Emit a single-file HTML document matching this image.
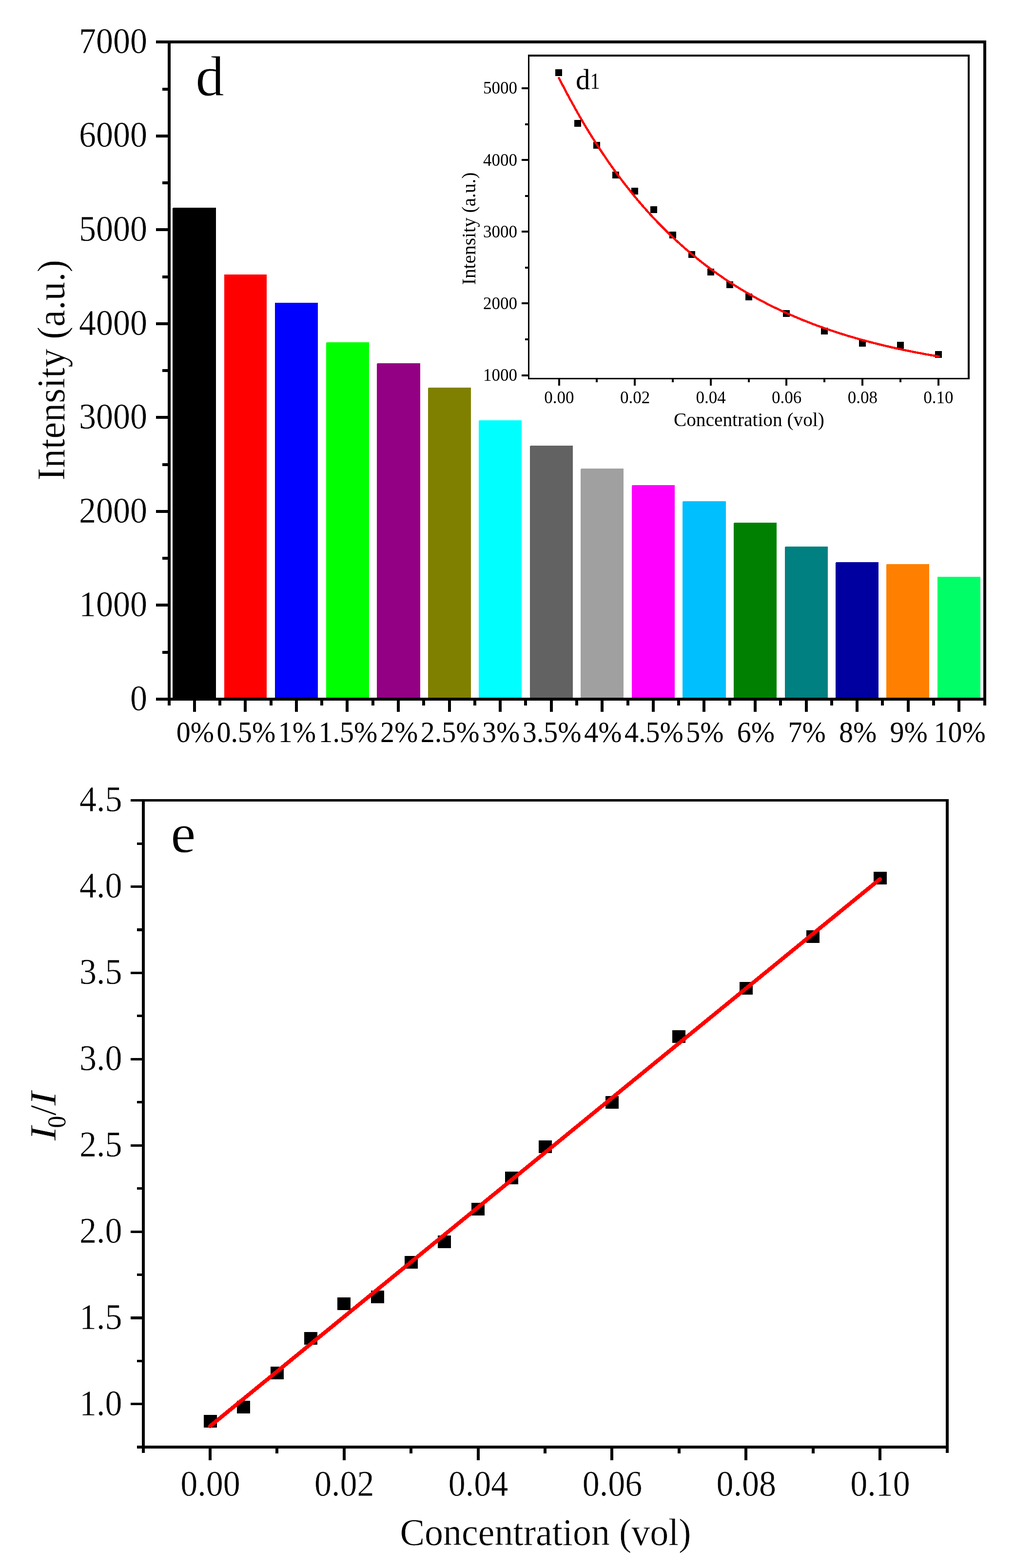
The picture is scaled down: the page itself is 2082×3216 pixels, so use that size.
<!DOCTYPE html>
<html lang="en"><head><meta charset="utf-8"><title>Intensity vs concentration</title>
<style>
html,body{margin:0;padding:0;background:#fff}
body{width:2082px;height:3216px;overflow:hidden}
svg{display:block}
text{font-family:"Liberation Serif","DejaVu Serif",serif;fill:#000}
text.t{stroke:#fff;stroke-width:0.007em;stroke-linejoin:round}
</style></head><body>
<svg width="2082" height="3216" viewBox="0 0 2082 3216">
<rect x="0" y="0" width="2082" height="3216" fill="#fff"/>
<g shape-rendering="crispEdges">
<rect x="354" y="426" width="89" height="1010" fill="#000000" rx="2" ry="2"/>
<rect x="460" y="563" width="87" height="873" fill="#ff0000"/>
<rect x="564" y="621" width="88" height="815" fill="#0000ff"/>
<rect x="669" y="702" width="88" height="734" fill="#00ff00" rx="2" ry="2"/>
<rect x="773" y="745" width="89" height="691" fill="#940083" rx="2" ry="2"/>
<rect x="878" y="795" width="88" height="641" fill="#808000" rx="2" ry="2"/>
<rect x="982" y="862" width="88" height="574" fill="#00ffff" rx="2" ry="2"/>
<rect x="1087" y="914" width="88" height="522" fill="#626262" rx="2" ry="2"/>
<rect x="1191" y="961" width="88" height="475" fill="#a0a0a0" rx="2" ry="2"/>
<rect x="1296" y="995" width="88" height="441" fill="#ff00ff" rx="2" ry="2"/>
<rect x="1400" y="1028" width="89" height="408" fill="#00bfff" rx="2" ry="2"/>
<rect x="1505" y="1072" width="88" height="364" fill="#008000" rx="2" ry="2"/>
<rect x="1610" y="1121" width="88" height="315" fill="#008080" rx="2" ry="2"/>
<rect x="1714" y="1153" width="88" height="283" fill="#0000a0" rx="2" ry="2"/>
<rect x="1818" y="1157" width="88" height="279" fill="#ff8000" rx="2" ry="2"/>
<rect x="1923" y="1183" width="88" height="253" fill="#00ff66"/>
<rect x="320" y="83" width="1703" height="6" fill="#000"/>
<rect x="320" y="1431" width="1703" height="6" fill="#000"/>
<rect x="344" y="83" width="6" height="1364" fill="#000"/>
<rect x="2017" y="83" width="6" height="1364" fill="#000"/>
<rect x="320" y="1431" width="24" height="6" fill="#000"/>
<rect x="333" y="1335" width="11" height="6" fill="#000"/>
<rect x="320" y="1238" width="24" height="6" fill="#000"/>
<rect x="333" y="1142" width="11" height="6" fill="#000"/>
<rect x="320" y="1046" width="24" height="6" fill="#000"/>
<rect x="333" y="950" width="11" height="6" fill="#000"/>
<rect x="320" y="853" width="24" height="6" fill="#000"/>
<rect x="333" y="757" width="11" height="6" fill="#000"/>
<rect x="320" y="661" width="24" height="6" fill="#000"/>
<rect x="333" y="565" width="11" height="6" fill="#000"/>
<rect x="320" y="468" width="24" height="6" fill="#000"/>
<rect x="333" y="372" width="11" height="6" fill="#000"/>
<rect x="320" y="276" width="24" height="6" fill="#000"/>
<rect x="333" y="180" width="11" height="6" fill="#000"/>
<rect x="320" y="83" width="24" height="6" fill="#000"/>
<rect x="396" y="1437" width="6" height="23" fill="#000"/>
<rect x="500" y="1437" width="6" height="23" fill="#000"/>
<rect x="605" y="1437" width="6" height="23" fill="#000"/>
<rect x="709" y="1437" width="6" height="23" fill="#000"/>
<rect x="814" y="1437" width="6" height="23" fill="#000"/>
<rect x="919" y="1437" width="6" height="23" fill="#000"/>
<rect x="1023" y="1437" width="6" height="23" fill="#000"/>
<rect x="1128" y="1437" width="6" height="23" fill="#000"/>
<rect x="1232" y="1437" width="6" height="23" fill="#000"/>
<rect x="1337" y="1437" width="6" height="23" fill="#000"/>
<rect x="1441" y="1437" width="6" height="23" fill="#000"/>
<rect x="1546" y="1437" width="6" height="23" fill="#000"/>
<rect x="1651" y="1437" width="6" height="23" fill="#000"/>
<rect x="1755" y="1437" width="6" height="23" fill="#000"/>
<rect x="1860" y="1437" width="6" height="23" fill="#000"/>
<rect x="1964" y="1437" width="6" height="23" fill="#000"/>
<rect x="448" y="1437" width="6" height="10" fill="#000"/>
<rect x="553" y="1437" width="6" height="10" fill="#000"/>
<rect x="657" y="1437" width="6" height="10" fill="#000"/>
<rect x="762" y="1437" width="6" height="10" fill="#000"/>
<rect x="866" y="1437" width="6" height="10" fill="#000"/>
<rect x="971" y="1437" width="6" height="10" fill="#000"/>
<rect x="1075" y="1437" width="6" height="10" fill="#000"/>
<rect x="1180" y="1437" width="6" height="10" fill="#000"/>
<rect x="1285" y="1437" width="6" height="10" fill="#000"/>
<rect x="1389" y="1437" width="6" height="10" fill="#000"/>
<rect x="1494" y="1437" width="6" height="10" fill="#000"/>
<rect x="1598" y="1437" width="6" height="10" fill="#000"/>
<rect x="1703" y="1437" width="6" height="10" fill="#000"/>
<rect x="1807" y="1437" width="6" height="10" fill="#000"/>
<rect x="1912" y="1437" width="6" height="10" fill="#000"/>
</g>
<text class="t" transform="translate(302,1456.9) scale(1,1.06)" font-size="70" text-anchor="end">0</text>
<text class="t" transform="translate(302,1264.33) scale(1,1.06)" font-size="70" text-anchor="end">1000</text>
<text class="t" transform="translate(302,1071.76) scale(1,1.06)" font-size="70" text-anchor="end">2000</text>
<text class="t" transform="translate(302,879.186) scale(1,1.06)" font-size="70" text-anchor="end">3000</text>
<text class="t" transform="translate(302,686.614) scale(1,1.06)" font-size="70" text-anchor="end">4000</text>
<text class="t" transform="translate(302,494.043) scale(1,1.06)" font-size="70" text-anchor="end">5000</text>
<text class="t" transform="translate(302,301.471) scale(1,1.06)" font-size="70" text-anchor="end">6000</text>
<text class="t" transform="translate(302,108.9) scale(1,1.06)" font-size="70" text-anchor="end">7000</text>
<text transform="translate(400.281,1522.3) scale(1,1.04)" font-size="58" text-anchor="middle">0%</text>
<text transform="translate(504.844,1522.3) scale(1,1.04)" font-size="58" text-anchor="middle">0.5%</text>
<text transform="translate(609.406,1522.3) scale(1,1.04)" font-size="58" text-anchor="middle">1%</text>
<text transform="translate(713.969,1522.3) scale(1,1.04)" font-size="58" text-anchor="middle">1.5%</text>
<text transform="translate(818.531,1522.3) scale(1,1.04)" font-size="58" text-anchor="middle">2%</text>
<text transform="translate(923.094,1522.3) scale(1,1.04)" font-size="58" text-anchor="middle">2.5%</text>
<text transform="translate(1027.66,1522.3) scale(1,1.04)" font-size="58" text-anchor="middle">3%</text>
<text transform="translate(1132.22,1522.3) scale(1,1.04)" font-size="58" text-anchor="middle">3.5%</text>
<text transform="translate(1236.78,1522.3) scale(1,1.04)" font-size="58" text-anchor="middle">4%</text>
<text transform="translate(1341.34,1522.3) scale(1,1.04)" font-size="58" text-anchor="middle">4.5%</text>
<text transform="translate(1445.91,1522.3) scale(1,1.04)" font-size="58" text-anchor="middle">5%</text>
<text transform="translate(1550.47,1522.3) scale(1,1.04)" font-size="58" text-anchor="middle">6%</text>
<text transform="translate(1655.03,1522.3) scale(1,1.04)" font-size="58" text-anchor="middle">7%</text>
<text transform="translate(1759.59,1522.3) scale(1,1.04)" font-size="58" text-anchor="middle">8%</text>
<text transform="translate(1864.16,1522.3) scale(1,1.04)" font-size="58" text-anchor="middle">9%</text>
<text transform="translate(1968.72,1522.3) scale(1,1.04)" font-size="58" text-anchor="middle">10%</text>
<text class="t" transform="translate(401.3,196.3)" font-size="117" text-anchor="start">d</text>
<text class="t" transform="translate(131.5,985.6) rotate(-90) scale(1.004,1.035)" font-size="77" text-anchor="start">Intensity (a.u.)</text>
<g shape-rendering="crispEdges">
<rect x="1083" y="112" width="906" height="4" fill="#000"/>
<rect x="1083" y="775" width="906" height="3" fill="#000"/>
<rect x="1083" y="112" width="3" height="666" fill="#000"/>
<rect x="1985" y="112" width="4" height="666" fill="#000"/>
<rect x="1070" y="768" width="13" height="4" fill="#000"/>
<rect x="1077" y="694" width="6" height="4" fill="#000"/>
<rect x="1070" y="620" width="13" height="4" fill="#000"/>
<rect x="1077" y="547" width="6" height="4" fill="#000"/>
<rect x="1070" y="473" width="13" height="4" fill="#000"/>
<rect x="1077" y="400" width="6" height="4" fill="#000"/>
<rect x="1070" y="326" width="13" height="4" fill="#000"/>
<rect x="1077" y="253" width="6" height="4" fill="#000"/>
<rect x="1070" y="179" width="13" height="4" fill="#000"/>
<rect x="1145" y="778" width="4" height="13" fill="#000"/>
<rect x="1222" y="778" width="4" height="6" fill="#000"/>
<rect x="1300" y="778" width="4" height="13" fill="#000"/>
<rect x="1378" y="778" width="4" height="6" fill="#000"/>
<rect x="1456" y="778" width="4" height="13" fill="#000"/>
<rect x="1534" y="778" width="4" height="6" fill="#000"/>
<rect x="1611" y="778" width="4" height="13" fill="#000"/>
<rect x="1689" y="778" width="4" height="6" fill="#000"/>
<rect x="1767" y="778" width="4" height="13" fill="#000"/>
<rect x="1845" y="778" width="4" height="6" fill="#000"/>
<rect x="1923" y="778" width="4" height="13" fill="#000"/>
</g>
<text transform="translate(1061,781) scale(1,1.04)" font-size="35" text-anchor="end">1000</text>
<text transform="translate(1061,633.87) scale(1,1.04)" font-size="35" text-anchor="end">2000</text>
<text transform="translate(1061,486.74) scale(1,1.04)" font-size="35" text-anchor="end">3000</text>
<text transform="translate(1061,339.61) scale(1,1.04)" font-size="35" text-anchor="end">4000</text>
<text transform="translate(1061,192.48) scale(1,1.04)" font-size="35" text-anchor="end">5000</text>
<text transform="translate(1146.9,827.2) scale(1,1.04)" font-size="35" text-anchor="middle">0.00</text>
<text transform="translate(1302.5,827.2) scale(1,1.04)" font-size="35" text-anchor="middle">0.02</text>
<text transform="translate(1458.1,827.2) scale(1,1.04)" font-size="35" text-anchor="middle">0.04</text>
<text transform="translate(1613.7,827.2) scale(1,1.04)" font-size="35" text-anchor="middle">0.06</text>
<text transform="translate(1769.3,827.2) scale(1,1.04)" font-size="35" text-anchor="middle">0.08</text>
<text transform="translate(1924.9,827.2) scale(1,1.04)" font-size="35" text-anchor="middle">0.10</text>
<text transform="translate(1536.4,874) scale(1.008,1.035)" font-size="39" text-anchor="middle">Concentration (vol)</text>
<text transform="translate(975.1,584.2) rotate(-90) scale(1.01,1.035)" font-size="39" text-anchor="start">Intensity (a.u.)</text>
<text transform="translate(1181,182.7)" font-size="59" text-anchor="start">d</text>
<text transform="translate(1210.4,182.3) scale(0.88,1.03)" font-size="46" text-anchor="start">1</text>
<g shape-rendering="crispEdges">
<rect x="1139" y="142" width="14" height="14" fill="#000"/>
<rect x="1178" y="246" width="14" height="14" fill="#000"/>
<rect x="1217" y="291" width="14" height="14" fill="#000"/>
<rect x="1256" y="352" width="14" height="14" fill="#000"/>
<rect x="1295" y="385" width="14" height="14" fill="#000"/>
<rect x="1334" y="423" width="14" height="14" fill="#000"/>
<rect x="1373" y="475" width="14" height="14" fill="#000"/>
<rect x="1412" y="515" width="14" height="14" fill="#000"/>
<rect x="1451" y="551" width="14" height="14" fill="#000"/>
<rect x="1490" y="577" width="14" height="14" fill="#000"/>
<rect x="1529" y="602" width="14" height="14" fill="#000"/>
<rect x="1606" y="636" width="14" height="14" fill="#000"/>
<rect x="1684" y="672" width="14" height="14" fill="#000"/>
<rect x="1762" y="697" width="14" height="14" fill="#000"/>
<rect x="1840" y="701" width="14" height="14" fill="#000"/>
<rect x="1918" y="720" width="14" height="14" fill="#000"/>
</g>
<polyline points="1146.6,160.1 1154.4,175.3 1162.2,190.2 1170.0,204.7 1177.8,218.8 1185.5,232.7 1193.3,246.1 1201.1,259.3 1208.9,272.1 1216.7,284.6 1224.5,296.8 1232.3,308.7 1240.1,320.3 1247.8,331.6 1255.6,342.7 1263.4,353.5 1271.2,364.0 1279.0,374.2 1286.8,384.2 1294.6,394.0 1302.4,403.5 1310.1,412.8 1317.9,421.9 1325.7,430.7 1333.5,439.4 1341.3,447.8 1349.1,456.0 1356.9,464.0 1364.7,471.8 1372.5,479.4 1380.2,486.9 1388.0,494.1 1395.8,501.2 1403.6,508.1 1411.4,514.8 1419.2,521.4 1427.0,527.8 1434.8,534.1 1442.5,540.2 1450.3,546.1 1458.1,551.9 1465.9,557.6 1473.7,563.1 1481.5,568.5 1489.3,573.8 1497.1,578.9 1504.8,583.9 1512.6,588.8 1520.4,593.6 1528.2,598.2 1536.0,602.7 1543.8,607.2 1551.6,611.5 1559.4,615.7 1567.2,619.8 1574.9,623.8 1582.7,627.7 1590.5,631.5 1598.3,635.2 1606.1,638.9 1613.9,642.4 1621.7,645.8 1629.5,649.2 1637.2,652.5 1645.0,655.7 1652.8,658.8 1660.6,661.9 1668.4,664.9 1676.2,667.8 1684.0,670.6 1691.8,673.4 1699.5,676.1 1707.3,678.7 1715.1,681.2 1722.9,683.7 1730.7,686.2 1738.5,688.6 1746.3,690.9 1754.1,693.2 1761.9,695.4 1769.6,697.5 1777.4,699.6 1785.2,701.7 1793.0,703.7 1800.8,705.6 1808.6,707.6 1816.4,709.4 1824.2,711.2 1831.9,713.0 1839.7,714.7 1847.5,716.4 1855.3,718.0 1863.1,719.6 1870.9,721.2 1878.7,722.7 1886.5,724.2 1894.2,725.7 1902.0,727.1 1909.8,728.5 1917.6,729.8 1925.4,731.1" fill="none" stroke="#ff0000" stroke-width="4.5" stroke-linecap="round" stroke-linejoin="round" shape-rendering="crispEdges"/>
<g shape-rendering="crispEdges">
<rect x="268" y="1639" width="1678" height="5" fill="#000"/>
<rect x="281" y="2965" width="1665" height="6" fill="#000"/>
<rect x="291" y="1639" width="6" height="1341" fill="#000"/>
<rect x="1940" y="1639" width="6" height="1341" fill="#000"/>
<rect x="268" y="2877" width="23" height="5" fill="#000"/>
<rect x="281" y="2789" width="10" height="5" fill="#000"/>
<rect x="268" y="2700" width="23" height="6" fill="#000"/>
<rect x="281" y="2612" width="10" height="5" fill="#000"/>
<rect x="268" y="2524" width="23" height="5" fill="#000"/>
<rect x="281" y="2435" width="10" height="5" fill="#000"/>
<rect x="268" y="2347" width="23" height="5" fill="#000"/>
<rect x="281" y="2258" width="10" height="5" fill="#000"/>
<rect x="268" y="2170" width="23" height="5" fill="#000"/>
<rect x="281" y="2081" width="10" height="5" fill="#000"/>
<rect x="268" y="1993" width="23" height="5" fill="#000"/>
<rect x="281" y="1904" width="10" height="6" fill="#000"/>
<rect x="268" y="1816" width="23" height="5" fill="#000"/>
<rect x="281" y="1728" width="10" height="5" fill="#000"/>
<rect x="428" y="2971" width="6" height="24" fill="#000"/>
<rect x="565" y="2971" width="6" height="10" fill="#000"/>
<rect x="703" y="2971" width="6" height="24" fill="#000"/>
<rect x="840" y="2971" width="6" height="10" fill="#000"/>
<rect x="978" y="2971" width="6" height="24" fill="#000"/>
<rect x="1115" y="2971" width="6" height="10" fill="#000"/>
<rect x="1252" y="2971" width="6" height="24" fill="#000"/>
<rect x="1390" y="2971" width="6" height="10" fill="#000"/>
<rect x="1527" y="2971" width="6" height="24" fill="#000"/>
<rect x="1665" y="2971" width="6" height="10" fill="#000"/>
<rect x="1802" y="2971" width="6" height="24" fill="#000"/>
</g>
<text class="t" transform="translate(250.6,2902.5) scale(1,1.06)" font-size="70" text-anchor="end">1.0</text>
<text class="t" transform="translate(250.6,2725.63) scale(1,1.06)" font-size="70" text-anchor="end">1.5</text>
<text class="t" transform="translate(250.6,2548.76) scale(1,1.06)" font-size="70" text-anchor="end">2.0</text>
<text class="t" transform="translate(250.6,2371.89) scale(1,1.06)" font-size="70" text-anchor="end">2.5</text>
<text class="t" transform="translate(250.6,2195.02) scale(1,1.06)" font-size="70" text-anchor="end">3.0</text>
<text class="t" transform="translate(250.6,2018.15) scale(1,1.06)" font-size="70" text-anchor="end">3.5</text>
<text class="t" transform="translate(250.6,1841.28) scale(1,1.06)" font-size="70" text-anchor="end">4.0</text>
<text class="t" transform="translate(250.6,1664.41) scale(1,1.06)" font-size="70" text-anchor="end">4.5</text>
<text class="t" transform="translate(431.5,3067.6) scale(1,1.06)" font-size="70" text-anchor="middle">0.00</text>
<text class="t" transform="translate(706.3,3067.6) scale(1,1.06)" font-size="70" text-anchor="middle">0.02</text>
<text class="t" transform="translate(981.1,3067.6) scale(1,1.06)" font-size="70" text-anchor="middle">0.04</text>
<text class="t" transform="translate(1255.9,3067.6) scale(1,1.06)" font-size="70" text-anchor="middle">0.06</text>
<text class="t" transform="translate(1530.7,3067.6) scale(1,1.06)" font-size="70" text-anchor="middle">0.08</text>
<text class="t" transform="translate(1805.5,3067.6) scale(1,1.06)" font-size="70" text-anchor="middle">0.10</text>
<text class="t" transform="translate(1119,3168.6) scale(1,1.035)" font-size="76" text-anchor="middle">Concentration (vol)</text>
<text class="t" transform="translate(350.2,1748.4)" font-size="115" text-anchor="start">e</text>
<text class="t" transform="translate(113.9,2339.5) rotate(-90) scale(1.14,1)" font-size="77" text-anchor="start" font-style="italic">I</text>
<text transform="translate(134.2,2313.6) rotate(-90) scale(1,1.04)" font-size="50" text-anchor="start">0</text>
<text class="t" transform="translate(113.9,2288) rotate(-90)" font-size="77" text-anchor="start">/</text>
<text class="t" transform="translate(113.9,2267.7) rotate(-90) scale(1.14,1)" font-size="77" text-anchor="start" font-style="italic">I</text>
<g shape-rendering="crispEdges">
<rect x="418" y="2902" width="27" height="26" fill="#000"/>
<rect x="486" y="2873" width="27" height="26" fill="#000"/>
<rect x="555" y="2803" width="27" height="26" fill="#000"/>
<rect x="624" y="2732" width="27" height="26" fill="#000"/>
<rect x="692" y="2661" width="27" height="26" fill="#000"/>
<rect x="761" y="2647" width="27" height="26" fill="#000"/>
<rect x="830" y="2576" width="27" height="26" fill="#000"/>
<rect x="898" y="2534" width="27" height="26" fill="#000"/>
<rect x="967" y="2467" width="27" height="26" fill="#000"/>
<rect x="1036" y="2403" width="27" height="26" fill="#000"/>
<rect x="1105" y="2339" width="27" height="26" fill="#000"/>
<rect x="1242" y="2248" width="27" height="26" fill="#000"/>
<rect x="1379" y="2113" width="27" height="26" fill="#000"/>
<rect x="1517" y="2014" width="27" height="26" fill="#000"/>
<rect x="1654" y="1908" width="27" height="26" fill="#000"/>
<rect x="1792" y="1788" width="27" height="26" fill="#000"/>
</g>
<line x1="431" y1="2925" x2="1805" y2="1803" stroke="#ff0000" stroke-width="8" stroke-linecap="round" shape-rendering="crispEdges"/>
</svg>
</body></html>
